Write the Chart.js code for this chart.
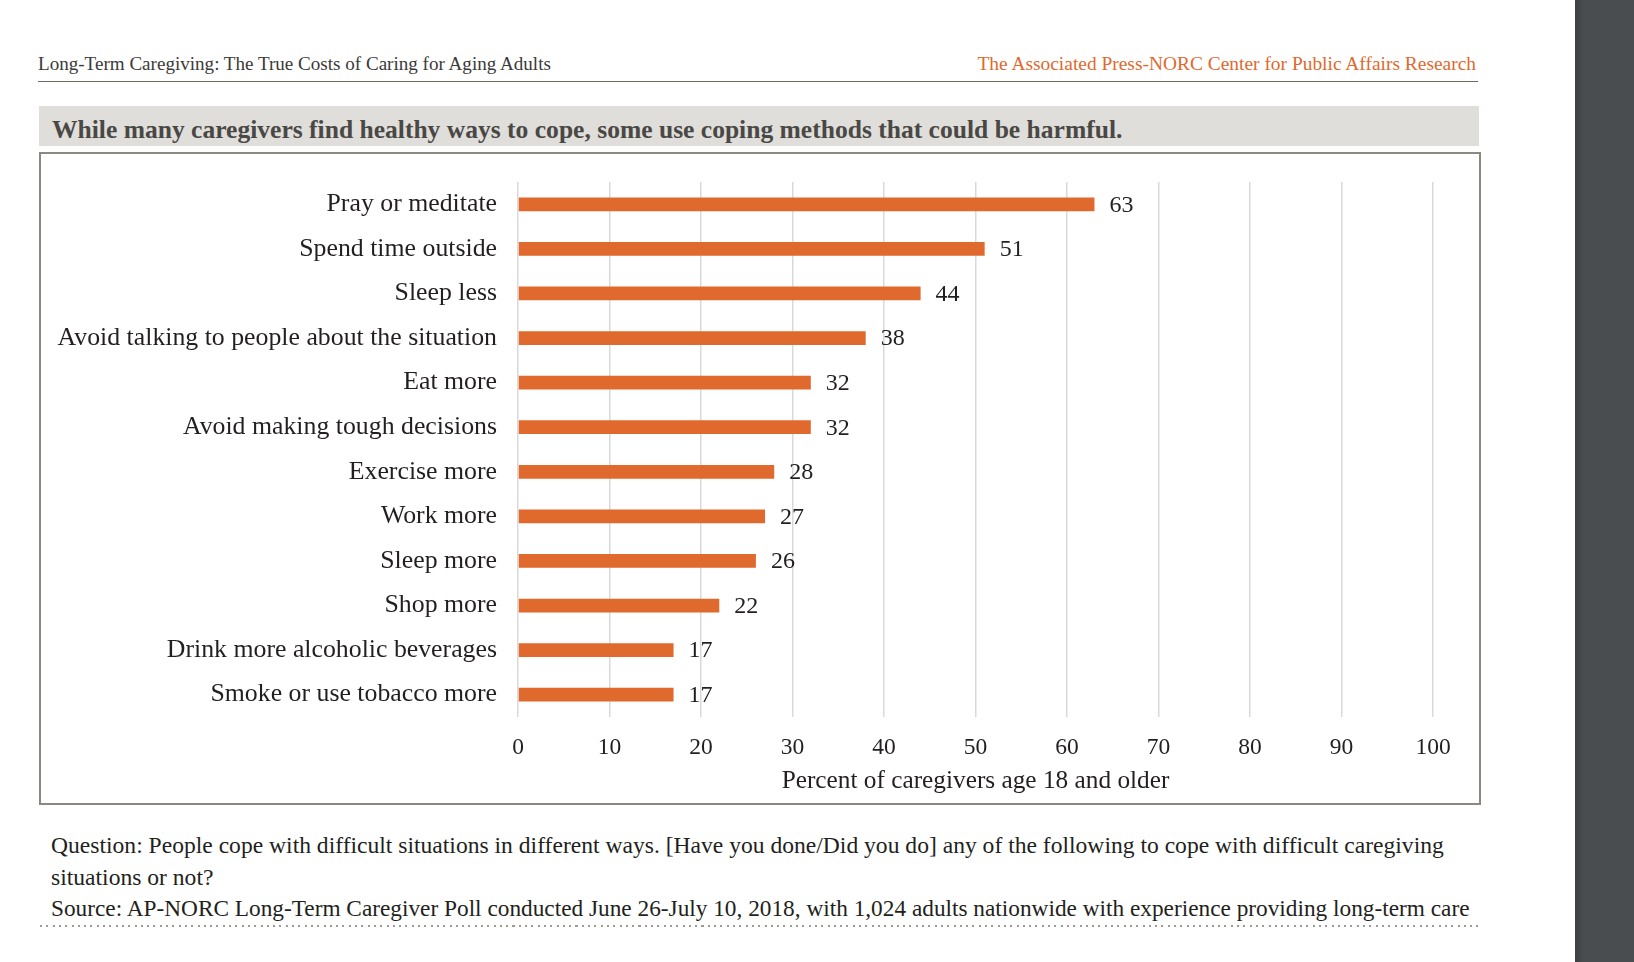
<!DOCTYPE html>
<html>
<head>
<meta charset="utf-8">
<script src="https://cdn.jsdelivr.net/npm/chart.js@4.4.1/dist/chart.umd.min.js"></script>
<style>
  html, body { margin:0; padding:0; background:#fff; }
  body { width:1634px; height:962px; position:relative; overflow:hidden; font-family:"Liberation Serif", serif; color:#231f20; }
  .abs { position:absolute; white-space:nowrap; }
  #hdrL { left:38px; top:53px; font-size:17px; color:#3b3a39; }
  #hdrR { right:158px; top:53px; font-size:17px; color:#e0692e; }
  #hdrLine { left:38px; top:81px; width:1440px; height:0; border-top:1.5px solid #6e6a66; }
  #band { left:39px; top:106px; width:1440px; height:40px; background:#e0dedb; }
  #title { left:52px; top:115px; font-size:21.5px; font-weight:bold; color:#4a4845; }
  #box { left:39px; top:152px; width:1438px; height:649px; border:2.5px solid #8d8782; background:#fff; }
  #cv { position:absolute; left:40px; top:153px; }
  .foot { font-size:20.5px; color:#231f20; left:51px; }
  #q1 { top:832px; }
  #q2 { top:864px; }
  #src { top:895px; }
  #dots { left:40px; top:925px; width:1438px; height:2px; background:repeating-linear-gradient(to right,#a09a95 0px,#a09a95 2px,transparent 2px,transparent 6.3px); }
  #dark { left:1575px; top:0; width:59px; height:962px; background:linear-gradient(to right,#3c3f42 0px,#4a4d50 8px,#4a4d50 100%); }
</style>
</head>
<body>
<div class="abs" id="hdrL">Long-Term Caregiving: The True Costs of Caring for Aging Adults</div>
<div class="abs" id="hdrR">The Associated Press-NORC Center for Public Affairs Research</div>
<div class="abs" id="hdrLine"></div>
<div class="abs" id="band"></div>
<div class="abs" id="title">While many caregivers find healthy ways to cope, some use coping methods that could be harmful.</div>
<div class="abs" id="box"></div>
<canvas id="cv" width="1441" height="651" style="width:1441px;height:651px;"></canvas>
<div class="abs foot" id="q1">Question: People cope with difficult situations in different ways. [Have you done/Did you do] any of the following to cope with difficult caregiving</div>
<div class="abs foot" id="q2">situations or not?</div>
<div class="abs foot" id="src">Source: AP-NORC Long-Term Caregiver Poll conducted June 26-July 10, 2018, with 1,024 adults nationwide with experience providing long-term care</div>
<div class="abs" id="dots"></div>
<div class="abs" id="dark"></div>
<script>
const categories = [
  "Pray or meditate",
  "Spend time outside",
  "Sleep less",
  "Avoid talking to people about the situation",
  "Eat more",
  "Avoid making tough decisions",
  "Exercise more",
  "Work more",
  "Sleep more",
  "Shop more",
  "Drink more alcoholic beverages",
  "Smoke or use tobacco more"
];
const percentValues = [63, 51, 44, 38, 32, 32, 28, 27, 26, 22, 17, 17];
const xTickValues = [0, 10, 20, 30, 40, 50, 60, 70, 80, 90, 100];
const axisTitle = "Percent of caregivers age 18 and older";

// fit text widths to the reference
function fitWidth(id, w) {
  const el = document.getElementById(id);
  const cur = el.getBoundingClientRect().width;
  const fs = parseFloat(getComputedStyle(el).fontSize);
  el.style.fontSize = (fs * w / cur) + "px";
}
fitWidth("hdrL", 513);
fitWidth("hdrR", 499);
fitWidth("title", 1071);
fitWidth("q1", 1394);
fitWidth("src", 1419);
document.getElementById("q2").style.fontSize = document.getElementById("q1").style.fontSize;

const FONT = "'Liberation Serif', serif";

const valueLabels = {
  id: "valueLabels",
  afterDatasetsDraw(chart) {
    const ctx = chart.ctx;
    const meta = chart.getDatasetMeta(0);
    ctx.save();
    ctx.font = "24px " + FONT;
    ctx.fillStyle = "#231f20";
    ctx.textAlign = "left";
    ctx.textBaseline = "middle";
    meta.data.forEach((bar, i) => {
      ctx.fillText(String(chart.data.datasets[0].data[i]), bar.x + 15, bar.y + 1);
    });
    ctx.restore();
  }
};

new Chart(document.getElementById("cv"), {
  type: "bar",
  data: {
    labels: categories,
    datasets: [{
      data: percentValues,
      backgroundColor: "#e0692e",
      borderWidth: 0,
      barPercentage: 0.31,
      categoryPercentage: 1
    }]
  },
  options: {
    indexAxis: "y",
    responsive: false,
    animation: false,
    events: [],
    layout: { padding: { top: 29, right: 48, left: 0, bottom: 0 } },
    plugins: { legend: { display: false }, tooltip: { enabled: false } },
    scales: {
      x: {
        type: "linear",
        min: 0,
        max: 100,
        afterBuildTicks(scale) { scale.ticks = xTickValues.map(v => ({ value: v })); },
        afterFit(scale) { scale.height = 87; scale.paddingLeft = 0; scale.paddingRight = 0; },
        border: { display: false },
        grid: { color: "#d9d9d9", lineWidth: 1.5, drawTicks: false },
        ticks: { padding: 17, color: "#231f20", font: { family: FONT, size: 23.5 } },
        title: { display: true, text: axisTitle, color: "#231f20", font: { family: FONT, size: 25.3 }, padding: { top: 0, bottom: 7 } }
      },
      y: {
        type: "category",
        afterFit(scale) { scale.width = 478; scale.paddingTop = 0; scale.paddingBottom = 0; },
        border: { display: false },
        grid: { display: false, drawTicks: false },
        ticks: { padding: 21, color: "#231f20", font: { family: FONT, size: 25.8 }, autoSkip: false }
      }
    }
  },
  plugins: [valueLabels]
});
</script>
</body>
</html>
